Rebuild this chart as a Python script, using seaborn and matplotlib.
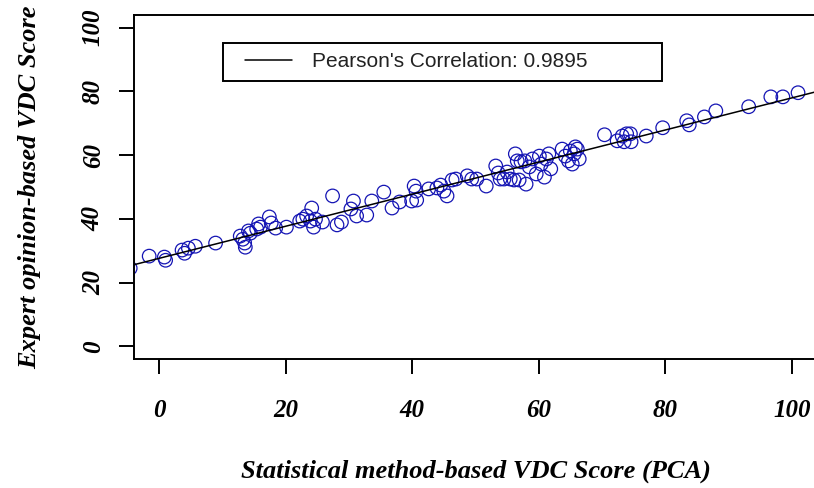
import pandas as pd
import matplotlib
matplotlib.use("Agg")
import matplotlib.pyplot as plt
import seaborn as sns
from matplotlib.lines import Line2D
from matplotlib.legend_handler import HandlerLine2D

# values
pca_score = [-4.6, -1.6, 0.8, 1.0, 3.6, 4.0, 4.6, 5.7, 8.9, 12.8,
             13.2, 13.5, 13.6, 14.1, 14.4, 15.4, 15.7, 16.0, 17.4, 17.7,
             18.4, 20.1, 22.2, 22.7, 23.3, 23.9, 24.1, 24.4, 24.7, 25.8,
             27.4, 28.1, 28.8, 30.3, 30.7, 31.2, 32.8, 33.6, 35.5, 36.8,
             38.0, 39.9, 40.3, 40.6, 40.7, 42.6, 43.9, 44.5, 45.0, 45.5,
             46.3, 46.9, 48.7, 49.4, 50.2, 51.7, 53.2, 53.6, 53.9, 54.5,
             55.0, 55.5, 56.1, 56.3, 56.6, 56.9, 57.2, 57.8, 58.0, 58.5,
             59.0, 59.6, 60.1, 60.4, 60.9, 61.2, 61.6, 61.9, 63.7, 64.2,
             64.7, 65.0, 65.3, 65.6, 66.1, 66.4, 65.8, 70.4, 72.4, 73.2,
             73.9, 74.5, 74.6, 73.5, 77.0, 79.6, 83.4, 83.8, 86.2, 88.0,
             93.2, 96.7, 98.6, 101.0]
expert_score = [24.5, 28.3, 28.0, 27.0, 30.2, 29.2, 30.8, 31.4, 32.4, 34.6,
                33.6, 32.4, 31.1, 36.2, 35.5, 36.8, 38.4, 37.4, 40.6, 38.7,
                37.1, 37.4, 39.3, 39.9, 40.9, 39.3, 43.4, 37.4, 39.9, 39.0,
                47.2, 38.1, 39.0, 43.1, 45.6, 40.9, 41.2, 45.6, 48.4, 43.4,
                45.3, 45.6, 50.3, 48.7, 45.9, 49.4, 49.7, 50.6, 48.7, 47.2,
                52.2, 52.5, 53.5, 52.5, 52.5, 50.3, 56.6, 54.4, 52.5, 52.5,
                54.7, 52.5, 52.2, 60.4, 58.2, 52.2, 57.9, 58.2, 50.9, 56.3,
                58.8, 54.1, 59.7, 57.2, 53.1, 58.8, 60.4, 55.7, 61.9, 59.7,
                58.2, 61.3, 57.2, 60.4, 61.9, 58.8, 62.6, 66.4, 64.5, 66.0,
                66.7, 66.7, 64.2, 64.2, 66.0, 68.6, 70.8, 69.5, 72.0, 73.9,
                75.2, 78.3, 78.3, 79.6]
x_ticks = [0, 20, 40, 60, 80, 100]
y_ticks = [0, 20, 40, 60, 80, 100]
corr_label = "Pearson's Correlation: 0.9895"

BLUE = "#1414B4"

sns.set_style("ticks")
plt.rcParams["font.family"] = ["Liberation Serif", "DejaVu Serif"]
plt.rcParams["text.color"] = "black"
plt.rcParams["axes.labelcolor"] = "black"
plt.rcParams["xtick.color"] = "black"
plt.rcParams["ytick.color"] = "black"

df = pd.DataFrame({"pca": pca_score, "expert": expert_score})

fig = plt.figure(figsize=(8.14, 4.88), dpi=100)
# axes box runs a little past the right edge, like the original
ax = fig.add_axes([134 / 814, 129 / 488, 683 / 814, 344 / 488])
ax.set_xlim(-4, 104)
ax.set_ylim(-4, 104)

sns.regplot(data=df, x="pca", y="expert", ax=ax, ci=None, truncate=False,
            scatter_kws=dict(s=95, color=BLUE, facecolors="none",
                             edgecolors=BLUE, linewidths=0.9, alpha=1),
            line_kws=dict(color="black", lw=1.1))

ax.set_xticks(x_ticks)
ax.set_yticks(y_ticks)
for sp in ax.spines.values():
    sp.set_linewidth(1.4)
    sp.set_color("black")
ax.tick_params(length=11, width=1.4, color="black")
ax.tick_params(axis="x", pad=18)
ax.tick_params(axis="y", pad=10)

tick_font = dict(family="Liberation Serif", weight="bold", style="italic", size=18)
ax.set_xticklabels([str(t) for t in x_ticks], fontdict=tick_font)
ax.set_yticklabels([str(t) for t in y_ticks], fontdict=tick_font,
                   rotation=90, va="center")

label_font = dict(family="Liberation Serif", weight="bold", style="italic", size=19)
ax.set_xlabel("Statistical method-based VDC Score (PCA)", fontdict=label_font, labelpad=27)
ax.set_ylabel("Expert opinion-based VDC Score", fontdict=label_font, labelpad=29)

handle = Line2D([], [], color="black", lw=1.1)
leg = ax.legend([handle], [corr_label], loc="upper left",
                bbox_to_anchor=(0.130, 0.7965, 0.643, 0.122), mode="expand",
                borderaxespad=0, borderpad=0.45, handlelength=2.85,
                handletextpad=1.0, fancybox=False, framealpha=1,
                prop=dict(family="Liberation Sans", size=15),
                handler_map={Line2D: HandlerLine2D(xpad=0.63)})
leg.get_frame().set_edgecolor("black")
leg.get_frame().set_linewidth(1.4)
for txt in leg.get_texts():
    txt.set_color("#222222")

fig.savefig("out.png", dpi=100)
